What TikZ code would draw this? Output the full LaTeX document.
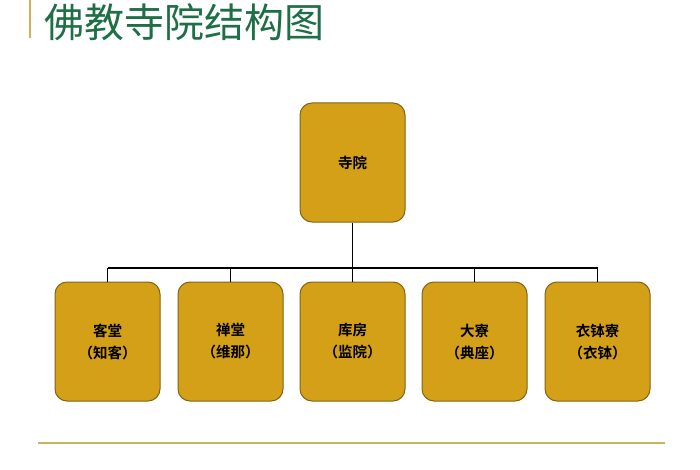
\documentclass[tikz,border=0pt]{standalone}
\usepackage{fontspec}
\newfontfamily\cjk{Noto Sans CJK SC}
\newfontfamily\cjkb{Noto Sans CJK SC Bold}
\definecolor{boxfill}{RGB}{212,160,23}
\definecolor{boxline}{RGB}{130,100,20}
\definecolor{titlegreen}{RGB}{30,110,70}
\definecolor{rule}{RGB}{200,180,90}
\tikzset{
  unit/.style={draw=boxline, line width=1pt, fill=boxfill, rounded corners=12pt,
    minimum width=105pt, minimum height=119pt, inner sep=0pt, align=center,
    font=\cjkb\fontsize{14.5}{22}\selectfont, text=black},
  link/.style={draw=black, line width=1.3pt}
}
\begin{document}
\begin{tikzpicture}[x=1pt,y=-1pt]
\useasboundingbox (0,0) rectangle (700,470);
\draw[rule, line width=2pt] (30,0) -- (30,38);
\node[anchor=west, text=titlegreen, font=\cjk\fontsize{40}{44}\selectfont, inner sep=0pt] (title) at (44,22) {佛教寺院结构图};
\draw[rule, line width=1.2pt] (38,443) -- (665,443);
\node[unit] (top) at (352.5,162.5) {寺院};
\node[unit] (b1) at (107.5,341.5) {客堂\\（知客）};
\node[unit] (b2) at (230.5,341.5) {禅堂\\（维那）};
\node[unit] (b3) at (352.5,341.5) {库房\\（监院）};
\node[unit] (b4) at (474.5,341.5) {大寮\\（典座）};
\node[unit] (b5) at (597.5,341.5) {衣钵寮\\（衣钵）};
\coordinate (bar) at (0,268);
\draw[link] (top.south) -- (top.south |- bar);
\draw[link] (b1.north |- bar) -- (b5.north |- bar);
\foreach \b in {b1,b2,b3,b4,b5} \draw[link] (\b.north) -- (\b.north |- bar);
\end{tikzpicture}
\end{document}
